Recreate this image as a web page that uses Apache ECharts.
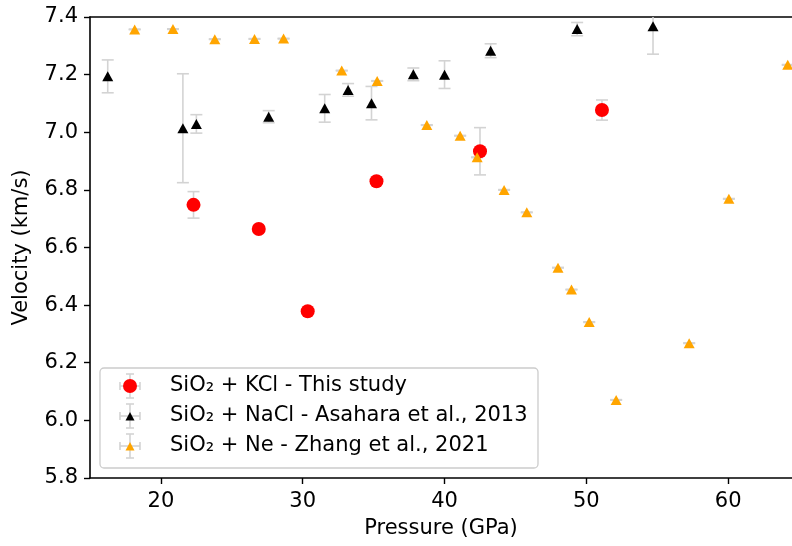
<!DOCTYPE html>
<html>
<head>
<meta charset="utf-8">
<script src="https://cdn.jsdelivr.net/npm/echarts@6/dist/echarts.min.js"></script>
<style>
  html, body { margin: 0; padding: 0; background: #fff; }
  #chart { width: 792px; height: 546px; }
</style>
</head>
<body>
<div id="chart"></div>
<script>
// SiO2 + KCl (this study)
const kclPressure = [22.3, 26.9, 30.35, 35.2, 42.5, 51.1];
const kclVelocity = [6.748, 6.664, 6.379, 6.830, 6.934, 7.077];
const kclError    = [0.046, 0.0, 0.0, 0.0, 0.082, 0.035];

// SiO2 + NaCl (Asahara et al., 2013)
const naclPressure = [16.25, 21.55, 22.5, 27.6, 31.55, 33.2, 34.85, 37.8, 40.0, 43.25, 49.35, 54.7];
const naclVelocity = [7.194, 7.014, 7.029, 7.054, 7.083, 7.147, 7.101, 7.201, 7.200, 7.283, 7.358, 7.368];
const naclError    = [0.057, 0.189, 0.032, 0.021, 0.048, 0.022, 0.058, 0.022, 0.048, 0.024, 0.023, 0.097];

// SiO2 + Ne (Zhang et al., 2021)
const nePressure = [18.15, 20.85, 23.8, 26.6, 28.65, 32.75, 35.25, 38.75, 41.1, 42.3, 44.2, 45.8,
                    48.0, 48.95, 50.2, 52.1, 57.25, 60.05, 64.2];
const neVelocity = [7.357, 7.358, 7.323, 7.324, 7.325, 7.214, 7.178, 7.025, 6.988, 6.913, 6.800, 6.722,
                    6.530, 6.454, 6.341, 6.071, 6.268, 6.769, 7.234];
const neError    = [0.001, 0.001, 0.001, 0.001, 0.001, 0.001, 0.001, 0.001, 0.001, 0.001, 0.001, 0.001,
                    0.001, 0.001, 0.001, 0.001, 0.001, 0.001, 0.001];

const seriesNames = [
  'SiO\u2082 + KCl - This study',
  'SiO\u2082 + NaCl - Asahara et al., 2013',
  'SiO\u2082 + Ne - Zhang et al., 2021'
];

// tick labels
const pressureTicks = [20, 30, 40, 50, 60];
const velocityTicks = [5.8, 6.0, 6.2, 6.4, 6.6, 6.8, 7.0, 7.2, 7.4];

const FONT = 'DejaVu Sans';
const FS = 21;
const ERR_COLOR = '#d3d3d3';

function zip3(a, b, c) { return a.map((v, i) => [v, b[i], c[i]]); }
function zip2(a, b) { return a.map((v, i) => [v, b[i]]); }

// vertical error bar with caps
function renderErrorBar(params, api) {
  const x = api.value(0), y = api.value(1), e = api.value(2);
  if (!e) return null;
  const top = api.coord([x, y + e]);
  const bot = api.coord([x, y - e]);
  const hw = 6;
  const style = { stroke: ERR_COLOR, lineWidth: 1.6, fill: null };
  return {
    type: 'group',
    children: [
      { type: 'line', shape: { x1: top[0], y1: top[1], x2: bot[0], y2: bot[1] }, style },
      { type: 'line', shape: { x1: top[0] - hw, y1: top[1], x2: top[0] + hw, y2: top[1] }, style },
      { type: 'line', shape: { x1: bot[0] - hw, y1: bot[1], x2: bot[0] + hw, y2: bot[1] }, style }
    ]
  };
}

function errSeries(p, v, e) {
  return {
    type: 'custom', renderItem: renderErrorBar, clip: true, silent: true,
    encode: { x: 0, y: 1 }, data: zip3(p, v, e)
  };
}

// legend key decoration: small cross of error bars behind each key marker
function legendKeyGlyph(cx, cy) {
  const st = { stroke: ERR_COLOR, lineWidth: 1.6 };
  return [
    { type: 'line', shape: { x1: cx - 10, y1: cy, x2: cx + 10, y2: cy }, style: st, z: 5 },
    { type: 'line', shape: { x1: cx - 10, y1: cy - 4, x2: cx - 10, y2: cy + 4 }, style: st, z: 5 },
    { type: 'line', shape: { x1: cx + 10, y1: cy - 4, x2: cx + 10, y2: cy + 4 }, style: st, z: 5 },
    { type: 'line', shape: { x1: cx, y1: cy - 12, x2: cx, y2: cy + 12 }, style: st, z: 5 },
    { type: 'line', shape: { x1: cx - 4, y1: cy - 12, x2: cx + 4, y2: cy - 12 }, style: st, z: 5 },
    { type: 'line', shape: { x1: cx - 4, y1: cy + 12, x2: cx + 4, y2: cy + 12 }, style: st, z: 5 }
  ];
}

const smallTriangle = 'path://M0,0M14,14M2.5,11.5L7,3L11.5,11.5Z';

const chart = echarts.init(document.getElementById('chart'), null, { renderer: 'canvas' });

const axisLineStyle = { color: '#000', width: 1.6 };

chart.setOption({
  animation: false,
  backgroundColor: '#fff',
  textStyle: { fontFamily: FONT },
  grid: { left: 90, right: 0, top: 17, bottom: 68 },
  xAxis: [{
    type: 'value', min: 15, max: 64.5,
    name: 'Pressure (GPa)', nameLocation: 'middle', nameGap: 40,
    nameTextStyle: { fontFamily: FONT, fontSize: FS, color: '#000' },
    axisLine: { show: true, onZero: false, lineStyle: axisLineStyle },
    axisTick: { show: true, length: 6, interval: 0, lineStyle: { color: '#000', width: 1.4 }, customValues: pressureTicks },
    axisLabel: { margin: 13, interval: 0, hideOverlap: false, fontFamily: FONT, fontSize: FS, color: '#000',
                 customValues: pressureTicks },
    splitLine: { show: false }
  }, {
    type: 'value', min: 15, max: 64.5, position: 'top',
    axisLine: { show: true, onZero: false, lineStyle: axisLineStyle },
    axisTick: { show: false }, axisLabel: { show: false }, splitLine: { show: false }
  }],
  yAxis: {
    type: 'value', min: 5.8, max: 7.4,
    name: 'Velocity (km/s)', nameLocation: 'middle', nameGap: 58,
    nameTextStyle: { fontFamily: FONT, fontSize: FS, color: '#000' },
    axisLine: { show: true, onZero: false, lineStyle: axisLineStyle },
    axisTick: { show: true, length: 6, interval: 0, lineStyle: { color: '#000', width: 1.4 }, customValues: velocityTicks },
    axisLabel: { margin: 12, interval: 0, fontFamily: FONT, fontSize: FS, color: '#000', customValues: velocityTicks,
                 formatter: v => v.toFixed(1) },
    splitLine: { show: false }
  },
  legend: {
    orient: 'vertical', left: 123, top: 375, padding: 0,
    itemWidth: 14, itemHeight: 14, itemGap: 8,
    selectedMode: false, z: 6,
    textStyle: { fontFamily: FONT, fontSize: FS, color: '#000', lineHeight: 22, padding: [0, 0, 0, 28] },
    data: [
      { name: seriesNames[0], icon: 'circle' },
      { name: seriesNames[1], icon: smallTriangle },
      { name: seriesNames[2], icon: smallTriangle }
    ]
  },
  graphic: [
    { type: 'rect', shape: { x: 100, y: 368, width: 438, height: 100, r: 4 },
      style: { fill: 'rgba(255,255,255,0.8)', stroke: '#cccccc', lineWidth: 1.3 }, z: 4 },
    ...legendKeyGlyph(130, 386),
    ...legendKeyGlyph(130, 416),
    ...legendKeyGlyph(130, 446)
  ],
  series: [
    errSeries(kclPressure, kclVelocity, kclError),
    { name: seriesNames[0], type: 'scatter', symbol: 'circle', symbolSize: 14,
      itemStyle: { color: '#ff0000', opacity: 1 }, data: zip2(kclPressure, kclVelocity) },
    errSeries(naclPressure, naclVelocity, naclError),
    { name: seriesNames[1], type: 'scatter', symbol: 'triangle', symbolSize: [11, 10],
      itemStyle: { color: '#000000', opacity: 1 }, data: zip2(naclPressure, naclVelocity) },
    errSeries(nePressure, neVelocity, neError),
    { name: seriesNames[2], type: 'scatter', symbol: 'triangle', symbolSize: [11, 10],
      itemStyle: { color: '#ffa500', opacity: 1 }, data: zip2(nePressure, neVelocity) }
  ]
});
</script>
</body>
</html>
